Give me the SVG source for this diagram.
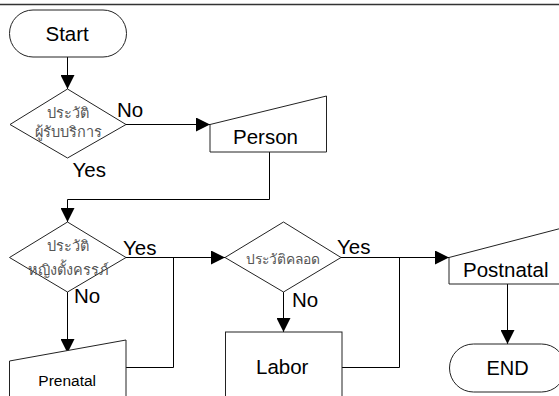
<svg xmlns="http://www.w3.org/2000/svg" width="559" height="396" viewBox="0 0 559 396">
<style>
.sh{fill:#fff;stroke:#222;stroke-width:1}
.cn{fill:none;stroke:#000;stroke-width:1}
.t{font-family:"Liberation Sans",Arial,sans-serif;fill:#000;font-size:20.5px}
.sm{font-size:15.5px}
.e{font-size:20px}
.th{font-family:"Noto Sans","Liberation Sans",sans-serif;fill:#555;text-anchor:middle;font-size:14.5px}
.th2{font-size:13.8px}
.lb{font-family:"Liberation Sans",Arial,sans-serif;fill:#000;font-size:20.5px}
</style>
<defs>
<marker id="ah" markerWidth="14" markerHeight="14" refX="14" refY="7" orient="auto" markerUnits="userSpaceOnUse">
<path d="M0,0 L14,7 L0,14 Z" fill="#000"/>
</marker>
</defs>
<rect width="559" height="396" fill="#fff"/>
<line x1="0" y1="4.5" x2="559" y2="4.5" stroke="#333" stroke-width="1.5"/>

<g id="connectors">
<path class="cn" d="M67.5,57 V89" marker-end="url(#ah)"/>
<path class="cn" d="M126,124.5 H210" marker-end="url(#ah)"/>
<path class="cn" d="M269.5,152 V199.5 H67.5 V222" marker-end="url(#ah)"/>
<path class="cn" d="M126,257.5 H225" marker-end="url(#ah)"/>
<path class="cn" d="M126,367.5 H173.5 V257.5"/>
<path class="cn" d="M67.5,292 V353" marker-end="url(#ah)"/>
<path class="cn" d="M341,257.5 H449" marker-end="url(#ah)"/>
<path class="cn" d="M342,367.5 H399.5 V257.5"/>
<path class="cn" d="M283.5,292 V332" marker-end="url(#ah)"/>
<path class="cn" d="M507.5,284 V344" marker-end="url(#ah)"/>
</g>

<g id="start">
<rect class="sh" x="9.5" y="10" width="117" height="47" rx="23.5"/>
<text class="t" x="45.5" y="40.5">Start</text>
</g>

<g id="decision1">
<polygon class="sh" points="67.5,89 126,124.5 67.5,158 10,124.5"/>
<text class="th" x="68" y="118">ประวัติ</text>
<text class="th" x="68" y="137">ผู้รับบริการ</text>
</g>
<text class="lb" x="117" y="117">No</text>
<text class="lb" x="72.5" y="176.5">Yes</text>

<g id="person">
<polygon class="sh" points="210,124.5 326.5,96 326.5,152 210,152"/>
<text class="t" x="233" y="144">Person</text>
</g>

<g id="decision2">
<polygon class="sh" points="67.5,222 126,257.5 67.5,292 9.5,257.5"/>
<text class="th" x="68" y="251">ประวัติ</text>
<text class="th" x="68" y="275">หญิงตั้งครรภ์</text>
</g>
<text class="lb" x="123" y="255">Yes</text>
<text class="lb" x="74" y="303">No</text>

<g id="prenatal">
<polygon class="sh" points="9.5,361 126,340 126,400 9.5,400"/>
<text class="t sm" x="38.3" y="386">Prenatal</text>
</g>

<g id="decision3">
<polygon class="sh" points="225,257.5 283.5,222 341,257.5 283.5,292"/>
<text class="th th2" x="283" y="264">ประวัติคลอด</text>
</g>
<text class="lb" x="337" y="254">Yes</text>
<text class="lb" x="292" y="306.5">No</text>

<g id="labor">
<rect class="sh" x="225.5" y="332" width="116.5" height="70"/>
<text class="t" x="256" y="374">Labor</text>
</g>

<g id="postnatal">
<polygon class="sh" points="449,257.5 566,227 566,284 449,284"/>
<text class="t" x="463" y="277">Postnatal</text>
</g>

<g id="end">
<rect class="sh" x="449.5" y="344" width="116" height="48" rx="24"/>
<text class="t e" x="486.5" y="375">END</text>
</g>
</svg>
